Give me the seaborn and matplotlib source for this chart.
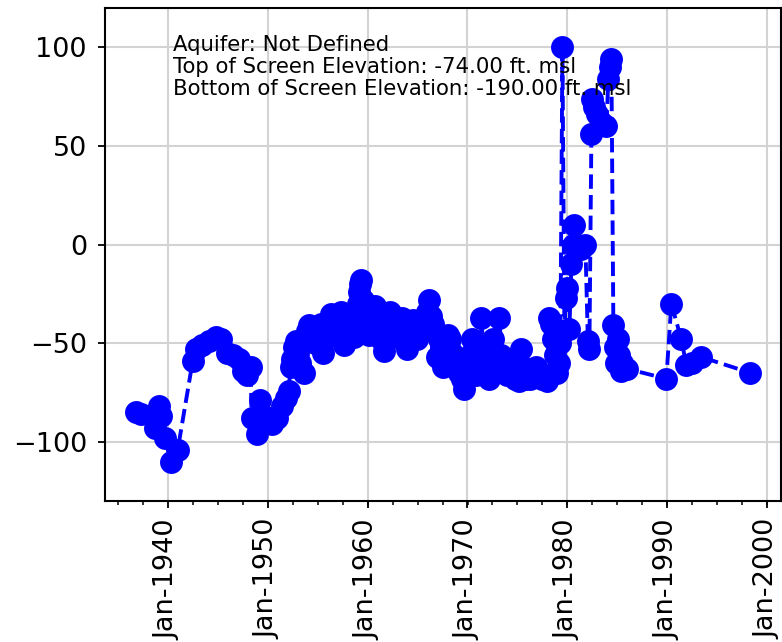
import matplotlib
matplotlib.use('Agg')
import matplotlib.pyplot as plt
import matplotlib.dates as mdates
from matplotlib.ticker import AutoMinorLocator
import seaborn as sns
import pandas as pd

# measurement dates (decimal years) and water level (ft. msl)
years = [
    1936.8, 1937.3, 1938.7, 1939.1, 1939.3, 1939.7, 1940.3, 1941.0,
    1942.5, 1942.8, 1943.4, 1944.1, 1944.8, 1945.3, 1945.9, 1946.5,
    1947.1, 1947.5, 1947.9, 1948.3, 1948.4, 1948.9, 1949.2, 1949.6,
    1950.4, 1950.9, 1951.4, 1951.8, 1952.1, 1952.3, 1952.4, 1952.6,
    1952.8, 1953.0, 1953.2, 1953.4, 1953.6, 1953.8, 1953.9, 1954.1,
    1954.3, 1954.5, 1954.7, 1954.9, 1955.1, 1955.3, 1955.5, 1955.7,
    1955.9, 1956.1, 1956.3, 1956.5, 1956.7, 1956.9, 1957.1, 1957.3,
    1957.5, 1957.6, 1957.8, 1958.0, 1958.2, 1958.4, 1958.6, 1958.8,
    1959.0, 1959.15, 1959.25, 1959.35, 1959.5, 1959.7, 1959.9, 1960.1,
    1960.3, 1960.5, 1960.7, 1960.9, 1961.1, 1961.3, 1961.6, 1961.8,
    1962.0, 1962.2, 1962.4, 1962.6, 1962.8, 1963.0, 1963.2, 1963.4,
    1963.6, 1963.9, 1964.1, 1964.3, 1964.5, 1964.7, 1964.9, 1965.1,
    1965.3, 1965.5, 1965.7, 1965.9, 1966.1, 1966.3, 1966.5, 1966.7,
    1966.9, 1967.1, 1967.3, 1967.5, 1967.7, 1967.9, 1968.1, 1968.3,
    1968.5, 1968.7, 1968.9, 1969.1, 1969.3, 1969.5, 1969.7, 1969.9,
    1970.1, 1970.3, 1970.5, 1970.7, 1970.9, 1971.1, 1971.3, 1971.4,
    1971.6, 1971.8, 1972.0, 1972.2, 1972.4, 1972.6, 1972.8, 1973.0,
    1973.2, 1973.4, 1973.6, 1973.8, 1974.0, 1974.2, 1974.4, 1974.6,
    1974.8, 1975.0, 1975.2, 1975.4, 1975.6, 1975.8, 1976.0, 1976.3,
    1976.6, 1976.9, 1977.2, 1977.5, 1977.8, 1978.0, 1978.2, 1978.4,
    1978.6, 1978.8, 1979.0, 1979.2, 1979.3, 1979.5, 1979.7, 1979.85,
    1980.0, 1980.2, 1980.4, 1980.55, 1980.7, 1981.0, 1981.4, 1981.8,
    1982.05, 1982.2, 1982.4, 1982.5, 1982.7, 1983.0, 1983.4, 1983.9,
    1984.1, 1984.25, 1984.4, 1984.6, 1984.75, 1984.9, 1985.05, 1985.2,
    1985.35, 1985.5, 1986.0, 1989.9, 1990.4, 1991.4, 1991.9, 1992.5,
    1993.4, 1998.3,
]
levels = [
    -85, -86, -93, -82, -87, -98, -110, -104,
    -59, -53, -51, -49, -47, -48, -55, -56,
    -58, -64, -66, -62, -88, -96, -79, -87,
    -91, -88, -82, -78, -74, -62, -58, -52,
    -49, -55, -60, -50, -65, -47, -44, -41,
    -48, -44, -50, -42, -46, -40, -55, -48,
    -40, -38, -35, -42, -46, -38, -36, -34,
    -44, -51, -45, -38, -35, -42, -47, -40,
    -30, -24, -20, -18, -28, -36, -42, -46,
    -38, -32, -31, -36, -44, -48, -54, -45,
    -38, -34, -36, -42, -47, -44, -40, -37,
    -43, -53, -47, -40, -38, -44, -48, -42,
    -40, -44, -38, -34, -28, -36, -40, -44,
    -57, -48, -52, -62, -55, -50, -46, -48,
    -55, -58, -62, -65, -60, -68, -73, -66,
    -60, -56, -48, -60, -66, -62, -56, -37,
    -55, -62, -66, -68, -60, -48, -56, -64,
    -37, -56, -64, -60, -66, -62, -58, -64,
    -68, -66, -69, -53, -62, -68, -66, -68,
    -65, -62, -66, -68, -66, -69, -37, -40,
    -48, -56, -65, -60, -50, 100, -44, -27,
    -22, -43, -10, 0, 10, 0, -2, 0,
    -49, -53, 56, 74, 70, 66, 62, 60,
    84, 90, 94, -41, -52, -60, -48, -56,
    -64, -60, -63, -68, -30, -48, -61, -60,
    -57, -65,
]

annotation = ('Aquifer: Not Defined\n'
              'Top of Screen Elevation: -74.00 ft. msl\n'
              'Bottom of Screen Elevation: -190.00 ft. msl')


def to_date(y):
    yr = int(y)
    start = pd.Timestamp(year=yr, month=1, day=1)
    return start + pd.Timedelta(days=(y - yr) * 365.25)


df = pd.DataFrame({'date': [to_date(y) for y in years], 'level': levels})

sns.set_style('white')
plt.rcParams['font.family'] = ['DejaVu Sans']
plt.rcParams['text.color'] = 'black'

fig = plt.figure(figsize=(7.82, 6.42), dpi=100)
ax = fig.add_axes([105 / 782, 141 / 642, 676 / 782, 493 / 642])

sns.lineplot(data=df, x='date', y='level', ax=ax, estimator=None, sort=False,
             color='blue', linestyle='--', linewidth=2.8, marker='o',
             markersize=16.5, markeredgewidth=0, zorder=3)

ax.set_ylim(-130, 120)
ax.set_yticks([-100, -50, 0, 50, 100])
ax.set_xlabel('')
ax.set_ylabel('')

ax.xaxis.set_major_locator(mdates.YearLocator(10))
ax.xaxis.set_major_formatter(mdates.DateFormatter('%b-%Y'))
ax.xaxis.set_minor_locator(AutoMinorLocator(4))

ax.grid(True, which='major', color='#d3d3d3', linewidth=1.5, zorder=0)
ax.set_axisbelow(True)
for s in ax.spines.values():
    s.set_color('black')
    s.set_linewidth(1.5)

ax.tick_params(axis='both', which='major', direction='out', length=5,
               width=1.3, color='black', labelcolor='black', labelsize=19.5,
               pad=8, bottom=True, left=True)
ax.tick_params(axis='x', which='minor', direction='out', length=3,
               width=1.1, color='black', bottom=True)
ax.tick_params(axis='x', labelrotation=90)

ax.text(0.1, 0.945, annotation, transform=ax.transAxes, va='top', ha='left',
        fontsize=15.3, linespacing=1.13, color='black', zorder=5)

fig.savefig('out.png', dpi=100)
